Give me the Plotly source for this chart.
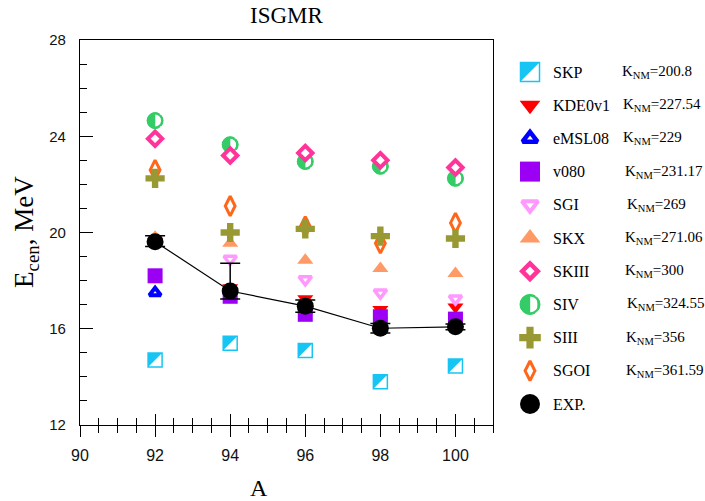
import plotly.graph_objects as go

# ---------------- data ----------------
A = [92, 94, 96, 98, 100]
SKP = [14.7, 15.4, 15.1, 13.8, 14.45]
KDE0v1 = [19.6, 17.7, 17.25, 16.8, 16.9]
eMSL08 = [17.5, 17.3, 16.7, 16.5, 16.3]
v080 = [18.2, 17.35, 16.6, 16.5, 16.4]
SGI = [19.6, 18.9, 18.05, 17.5, 17.25]
SKX = [19.8, 19.55, 18.85, 18.5, 18.3]
SGOI = [22.6, 21.1, 20.25, 19.55, 20.4]
SIII = [22.25, 20.0, 20.15, 19.85, 19.75]
SIV = [24.65, 23.65, 22.95, 22.75, 22.25]
SKIII = [23.9, 23.2, 23.3, 23.0, 22.7]
EXP = [19.62, 17.57, 16.94, 16.02, 16.08]
EXP_err_plus = [0.25, 1.15, 0.25, 0.2, 0.12]
EXP_err_minus = [0.2, 0.33, 0.25, 0.2, 0.12]

legend_names = ["SKP", "KDE0v1", "eMSL08", "v080", "SGI", "SKX",
                "SKIII", "SIV", "SIII", "SGOI", "EXP."]
legend_K = ["200.8", "227.54", "229", "231.17", "269", "271.06",
            "300", "324.55", "356", "361.59", None]

x_ticks = [90, 92, 94, 96, 98, 100]
y_ticks = [12, 16, 20, 24, 28]

# ---------------- geometry ----------------
W, H = 705, 501
ML, MT, MB = 80, 40, 76
PW = W - ML
PH = H - MT - MB
X0, X1 = 90, 101
Y0, Y1 = 12, 28
PLOT_W = 413
main_dom = PLOT_W / PW
pxx = PLOT_W / (X1 - X0)
pxy = PH / (Y1 - Y0)

LEG_X0 = 505
leg_dom0 = (LEG_X0 - ML) / PW
row_px = 33.2
first_row_px = 72
leg_lo = -(PH + MT - first_row_px) / row_px
leg_hi = leg_lo + PH / row_px

SERIF = "Liberation Serif, Times New Roman, serif"
SANS = "Liberation Sans, Arial, sans-serif"

CYAN = "#17C5F4"
RED = "#FF0000"
BLUE = "#0000FF"
PURPLE = "#9B00F5"
PINK = "#FF99FF"
PEACH = "#FF9966"
HOT = "#FF3399"
GREEN = "#33CC66"
OLIVE = "#999933"
ORANGE = "#FF6619"

fig = go.Figure()


def sc(xs, ys, xa, ya, **marker):
    fig.add_trace(go.Scatter(x=xs, y=ys, mode="markers", xaxis=xa, yaxis=ya,
                             showlegend=False, hoverinfo="skip",
                             marker=marker))


def simple(xs, ys, xa, ya, symbol, color, size, lcolor=None, lwidth=0):
    sc(xs, ys, xa, ya, symbol=symbol, color=color, size=size,
       line=dict(color=lcolor or color, width=lwidth))


def skp(xs, ys, xa, ya, s, kx, ky):
    sc(xs, ys, xa, ya, symbol="square", color="white", size=s,
       line=dict(color=CYAN, width=1.5))
    d = s / 6.0
    sc([x - d / kx for x in xs], [y + d / ky for y in ys], xa, ya,
       symbol="triangle-nw", color=CYAN, size=s * 1.111, line=dict(width=0))


def siv(xs, ys, xa, ya, s, kx, ky):
    sc(xs, ys, xa, ya, symbol="circle", color=GREEN, size=s,
       line=dict(color=GREEN, width=1))
    sh = 0.19 * s
    sc([x + sh / kx for x in xs], ys, xa, ya, symbol="line-ns", color="white",
       size=0.58 * s, line=dict(color="white", width=0.36 * s))
    sc(xs, ys, xa, ya, symbol="circle-open", color=GREEN, size=s - 2,
       line=dict(color=GREEN, width=2))


def draw_all(xs_list, rows, xa, ya, kx, ky, big):
    f = (lambda a, b: b) if big else (lambda a, b: a)
    skp(xs_list, rows["SKP"], xa, ya, f(14, 19), kx, ky)
    simple(xs_list, rows["KDE0v1"], xa, ya, "triangle-down", RED, f(14, 18))
    simple(xs_list, rows["eMSL08"], xa, ya, "triangle-up", "white", f(10, 13), BLUE, f(4, 4.5))
    simple(xs_list, rows["v080"], xa, ya, "square", PURPLE, f(15, 20))
    simple(xs_list, rows["SGI"], xa, ya, "triangle-down", "white", f(11, 14), PINK, f(3.5, 4))
    simple(xs_list, rows["SKX"], xa, ya, "triangle-up", PEACH, f(14, 18))
    simple(xs_list, rows["SGOI"], xa, ya, "diamond-tall", "white", f(14, 14), ORANGE, f(3, 3))
    simple(xs_list, rows["SIII"], xa, ya, "cross", OLIVE, f(16, 18))
    siv(xs_list, rows["SIV"], xa, ya, f(16, 20), kx, ky)
    simple(xs_list, rows["SKIII"], xa, ya, "diamond", "white", f(11, 12), HOT, f(4, 4.5))


# ---------------- main plot ----------------
main_rows = {"SKP": SKP, "KDE0v1": KDE0v1, "eMSL08": eMSL08, "v080": v080,
             "SGI": SGI, "SKX": SKX, "SGOI": SGOI, "SIII": SIII,
             "SIV": SIV, "SKIII": SKIII}
draw_all(A, main_rows, "x", "y", pxx, pxy, False)

fig.add_trace(go.Scatter(
    x=A, y=EXP, mode="lines+markers", xaxis="x", yaxis="y", showlegend=False,
    hoverinfo="skip",
    line=dict(color="black", width=1.2),
    marker=dict(symbol="circle", color="black", size=17),
    error_y=dict(type="data", symmetric=False, array=EXP_err_plus,
                 arrayminus=EXP_err_minus, color="black", thickness=1.5, width=10)))

# dummy trace for overlay axis
fig.add_trace(go.Scatter(x=[X0], y=[Y0], xaxis="x3", yaxis="y", mode="markers",
                         marker=dict(opacity=0), showlegend=False, hoverinfo="skip"))

# ---------------- legend ----------------
idx = {n: i for i, n in enumerate(legend_names)}
leg_x = 25
leg_rows = {n: [-idx[n]] for n in ["SKP", "KDE0v1", "eMSL08", "v080", "SGI", "SKX",
                                   "SGOI", "SIII", "SIV", "SKIII"]}
draw_all([leg_x], leg_rows, "x2", "y2", 1.0, row_px, True)
simple([leg_x], [-idx["EXP."]], "x2", "y2", "circle", "black", 20)

K_x = [115, 116, 116, 118, 120, 118, 118, 120, 119, 119, 0]
annotations = []
for i, (n, k) in enumerate(zip(legend_names, legend_K)):
    annotations.append(dict(x=46, y=-i, xref="x2", yref="y2", text=n,
                            showarrow=False, xanchor="left", yanchor="middle",
                            font=dict(family=SERIF, size=16, color="black")))
    if k is not None:
        annotations.append(dict(x=K_x[i], y=-i, xref="x2", yref="y2",
                                text="K<sub>NM</sub>=" + k, showarrow=False,
                                xanchor="left", yanchor="middle",
                                font=dict(family=SERIF, size=15, color="black")))

annotations.append(dict(x=(287 - ML) / PW, y=(PH + MT - 15) / PH, xref="paper", yref="paper",
                        text="ISGMR", showarrow=False, xanchor="center", yanchor="middle",
                        font=dict(family=SERIF, size=23, color="black")))
annotations.append(dict(x=(259 - ML) / PW, y=(PH + MT - 488) / PH, xref="paper", yref="paper",
                        text="A", showarrow=False, xanchor="center", yanchor="middle",
                        font=dict(family=SERIF, size=24, color="black")))
annotations.append(dict(x=(26 - ML) / PW, y=(PH + MT - 232) / PH, xref="paper", yref="paper",
                        text="E<sub>cen</sub>, MeV", textangle=-90, showarrow=False,
                        xanchor="center", yanchor="middle",
                        font=dict(family=SERIF, size=27, color="black")))

fig.update_layout(
    width=W, height=H,
    margin=dict(l=ML, r=0, t=MT, b=MB),
    paper_bgcolor="white", plot_bgcolor="white",
    showlegend=False,
    annotations=annotations,
    xaxis=dict(domain=[0, main_dom], range=[X0, X1], tickmode="array", tickvals=x_ticks,
               ticktext=[str(v) for v in x_ticks],
               ticks="outside", ticklen=11, tickwidth=1, tickcolor="black",
               minor=dict(ticks="outside", ticklen=7, tickwidth=1, tickcolor="black",
                          dtick=0.5, tick0=90),
               showline=True, linecolor="black", linewidth=1.2, mirror=True,
               showgrid=False, zeroline=False, ticklabelstandoff=5,
               tickfont=dict(family=SANS, size=16, color="#111")),
    xaxis3=dict(overlaying="x", anchor="y", range=[X0, X1], tickmode="array",
                tickvals=x_ticks, ticks="inside", ticklen=11, tickwidth=1,
                tickcolor="black", showticklabels=False, showline=False,
                showgrid=False, zeroline=False,
                minor=dict(ticks="inside", ticklen=7, tickwidth=1, tickcolor="black",
                           dtick=0.5, tick0=90)),
    yaxis=dict(domain=[0, 1], range=[Y0, Y1], tickmode="array", tickvals=y_ticks,
               ticks="inside", ticklen=13, tickwidth=1, tickcolor="black",
               minor=dict(ticks="inside", ticklen=7, tickwidth=1, tickcolor="black",
                          dtick=1, tick0=12),
               showline=True, linecolor="black", linewidth=1.2, mirror=True,
               showgrid=False, zeroline=False, ticklabelstandoff=10,
               tickfont=dict(family=SANS, size=15, color="#111")),
    xaxis2=dict(domain=[leg_dom0, 1], range=[0, W - LEG_X0], visible=False, anchor="y2"),
    yaxis2=dict(domain=[0, 1], range=[leg_lo, leg_hi], visible=False, anchor="x2"),
)

fig.write_html("out.html")
